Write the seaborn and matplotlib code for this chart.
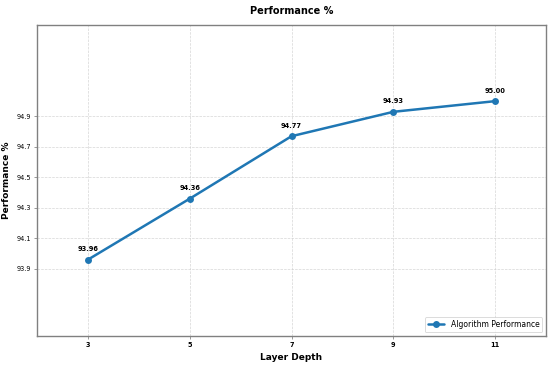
import matplotlib
matplotlib.use("Agg")
import matplotlib.pyplot as plt
import seaborn as sns
import pandas as pd

layers = [3, 5, 7, 9, 11]
performance = [93.96, 94.36, 94.77, 94.93, 95.00]
series_name = "Algorithm Performance"
yticks = [93.9, 94.1, 94.3, 94.5, 94.7, 94.9]

df = pd.DataFrame({"Layer Depth": layers, "Performance %": performance})

sns.set_style("whitegrid")
plt.rcParams['font.family'] = ['DejaVu Sans']
plt.rcParams['text.color'] = 'black'
plt.rcParams['axes.labelcolor'] = 'black'
plt.rcParams['xtick.color'] = 'black'
plt.rcParams['ytick.color'] = 'black'

fig = plt.figure(figsize=(5.5, 3.66), dpi=100)
ax = fig.add_axes([0.067, 0.082, 0.926, 0.85])

sns.lineplot(data=df, x="Layer Depth", y="Performance %", marker="o",
             color="#1f77b4", linewidth=1.8, markersize=5, markeredgewidth=0,
             label=series_name, ax=ax)

for x, y in zip(layers, performance):
    ax.annotate(f"{y:.2f}", (x, y), textcoords="offset points", xytext=(0, 6),
                ha="center", fontsize=4.8, fontweight="bold", color="black")

ax.set_xlim(2, 12)
ax.set_ylim(min(performance) - 0.5, max(performance) + 0.5)
ax.set_xticks(layers)
ax.set_yticks(yticks)
ax.set_yticklabels([f"{v:.1f}" for v in yticks])
ax.tick_params(axis="both", labelsize=4.7, length=2, width=0.6, color="#888888",
               labelcolor="black", pad=2)
ax.tick_params(axis="both", which="both", left=True, bottom=True)
for lab in ax.get_xticklabels():
    lab.set_fontweight("bold")

ax.grid(True, linestyle="--", linewidth=0.5, color="#cccccc", alpha=0.8)
for s in ax.spines.values():
    s.set_color("#808080")
    s.set_linewidth(1.0)

ax.set_xlabel("Layer Depth", fontsize=6.5, fontweight="bold", labelpad=4, color="black")
ax.set_ylabel("Performance %", fontsize=6.5, fontweight="bold", labelpad=4, color="black")
ax.set_title("Performance %", fontsize=7, fontweight="bold", pad=8, color="black")

leg = ax.legend(loc="lower right", fontsize=5.5, frameon=True, borderpad=0.4,
                handlelength=2.2)
leg.get_frame().set_edgecolor("#cccccc")
leg.get_frame().set_linewidth(0.6)
for t in leg.get_texts():
    t.set_color("black")

fig.savefig("out.png", dpi=100)
